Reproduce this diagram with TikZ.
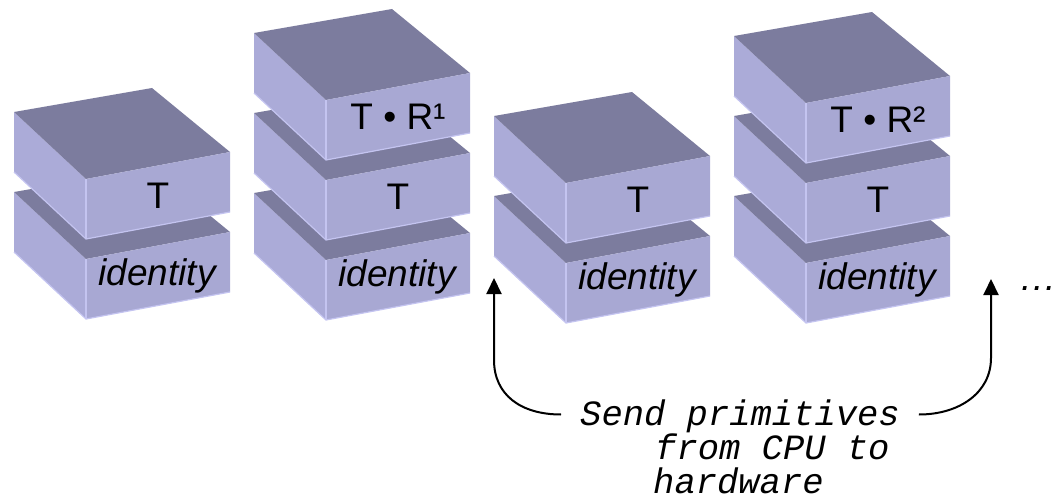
\documentclass[tikz,border=0pt]{standalone}
\usepackage{fontspec}
\setmainfont{Liberation Sans}
\setmonofont{Liberation Mono}
\usetikzlibrary{arrows.meta,positioning,calc}

\definecolor{slabtop}{HTML}{7C7C9E}
\definecolor{slabfront}{HTML}{A8A8D3}
\definecolor{slabside}{HTML}{ABABD8}
\definecolor{slabrim}{HTML}{C4C4F0}

\tikzset{
  slablabel/.style={font=\fontsize{37}{40}\selectfont, inner sep=0pt},
  note/.style={font=\fontsize{35.5}{36}\selectfont\ttfamily\itshape, inner ysep=0pt, inner xsep=19pt, text height=21pt, text depth=0pt, anchor=base west},
  push/.style={-{Triangle[length=16pt,width=15pt]}, line width=2pt},
}

% one slab: name, front-left top corner, label
\newcommand{\slab}[3]{
  \coordinate (#1fl) at (#2);
  \fill[slabside] ($(#1fl)+(-72,-67)$) -- (#1fl) -- ($(#1fl)+(0,60)$) -- ($(#1fl)+(-72,-7)$) -- cycle;
  \fill[slabtop] ($(#1fl)+(-72,-67)$) -- (#1fl) -- ($(#1fl)+(144,-27)$) -- ($(#1fl)+(66,-91)$) -- cycle;
  \fill[slabfront] (#1fl) -- ($(#1fl)+(144,-27)$) -- ($(#1fl)+(144,33)$) -- ($(#1fl)+(0,60)$) -- cycle;
  \draw[slabrim, line width=1.2pt] ($(#1fl)+(-72,-7)$) -- ($(#1fl)+(0,60)$) -- ($(#1fl)+(144,33)$);
  \draw[slabrim, line width=1.2pt] (#1fl) -- ($(#1fl)+(0,60)$);
  \node[slablabel] (#1) at ($(#1fl)+(72,16.5)$) {#3};
}

\begin{document}
\begin{tikzpicture}[x=1pt,y=-1pt]
\useasboundingbox (0,0) rectangle (1057,500);

% stacks, bottom slab first
\slab{ida}{86,259}{\textit{identity}}
\slab{ta}{86,179}{T}

\slab{idb}{326,260}{\textit{identity}}
\slab{tb}{326,180}{T}
\slab{trb}{326,100}{T • R¹}

\slab{idc}{566,263}{\textit{identity}}
\slab{tc}{566,183}{T}

\slab{idd}{806,263}{\textit{identity}}
\slab{td}{806,183}{T}
\slab{trd}{806,103}{T • R²}

\node[slablabel, anchor=base west] (more) at (1021,290) {\textit{.\kern2pt.\kern2pt.}};

% caption
\node[note] (line1) at (561,425) {Send primitives};
\node[note] (line2) at (636,459) {from CPU to};
\node[note] (line3) at (634,493) {hardware};

\coordinate (tipc) at (494,278);
\coordinate (bendc) at (494,360);
\coordinate (tipe) at (991,279);
\coordinate (bende) at (991,358);

\draw[push] (line1.west) .. controls +(-40,0) and +(0,35) .. (bendc) -- (tipc);
\draw[push] (line1.east) .. controls +(40,0) and +(0,35) .. (bende) -- (tipe);
\end{tikzpicture}
\end{document}
